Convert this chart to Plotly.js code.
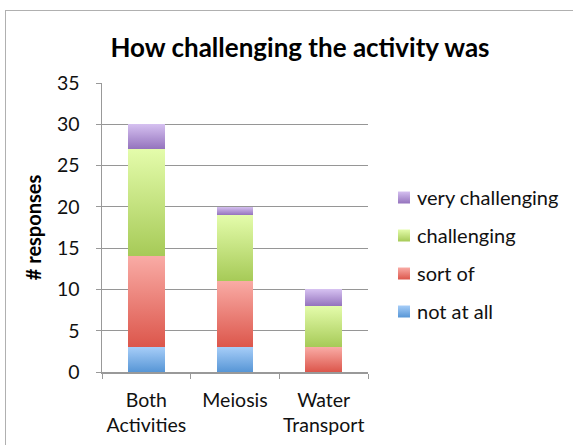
<!DOCTYPE html>
<html><head><meta charset="utf-8">
<script src="https://cdn.plot.ly/plotly-3.0.1.min.js"></script>
<style>
html,body{margin:0;padding:0;background:#fff;}
#wrap{position:relative;width:573px;height:445px;overflow:hidden;}
#frame{position:absolute;left:5px;top:10px;width:600px;height:500px;border:1.5px solid #b0b0b0;box-sizing:border-box;pointer-events:none;z-index:2;}
#chart{position:absolute;left:0;top:0;width:573px;height:445px;}
</style></head>
<body><div id="wrap"><div id="chart"></div><div id="frame"></div></div>
<script>
const categories = ["Both<br>Activities", "Meiosis", "Water<br>Transport"];
const notAtAll = [3, 3, 0];
const sortOf = [11, 8, 3];
const challenging = [13, 8, 5];
const veryChallenging = [3, 1, 2];
const seriesNames = ["not at all", "sort of", "challenging", "very challenging"];
const yTicks = [0, 5, 10, 15, 20, 25, 30, 35];

const baseColors = ["#7aaee6", "#ea7d76", "#c8e48a", "#b29bd5"];
const gradTop = ["#a6cdf8", "#f9aba5", "#e4fcab", "#d5c0f0"];
const gradBot = ["#5796d6", "#dc564b", "#a6ca57", "#9473bd"];

const values = [notAtAll, sortOf, challenging, veryChallenging];
const traces = values.map((v, i) => ({
  type: "bar",
  name: seriesNames[i],
  x: categories,
  y: v,
  legendgroup: "g" + i,
  legendrank: 1000 - i,
  marker: {color: baseColors[i], line: {width: 0}},
  hoverinfo: "y+name"
}));

const font = "Lato, 'Open Sans', sans-serif";
const layout = {
  width: 573, height: 445,
  margin: {l: 102, r: 205, t: 83, b: 73},
  paper_bgcolor: "#fff", plot_bgcolor: "#fff",
  barmode: "stack",
  bargap: 0.59,
  font: {family: font, size: 19, color: "#111"},
  title: {text: "<b>How challenging the activity was</b>", font: {family: font, size: 26, color: "#000"},
          xref: "container", x: 300/573, xanchor: "center", yref: "container", y: 1 - 48/445, yanchor: "middle"},
  xaxis: {type: "category", tickson: "boundaries", ticks: "outside", ticklen: 5, tickcolor: "#999",
          showline: true, linecolor: "#999", linewidth: 1.5, showgrid: false, tickangle: 0, automargin: false,
          ticklabelstandoff: 10,
          tickfont: {size: 19.5, family: font, color: "#111"}},
  yaxis: {range: [0, 35], tickvals: yTicks, ticktext: yTicks.map(String), ticks: "outside", ticklen: 5, tickcolor: "#999",
          showline: true, linecolor: "#999", linewidth: 1.5, showgrid: true, gridcolor: "#969696", gridwidth: 1.2,
          zeroline: false, ticklabelstandoff: 12, automargin: false,
          tickfont: {size: 19.5, family: font, color: "#111"},
          title: {text: "<b># responses</b>", font: {size: 20, family: font, color: "#000"}, standoff: 10}},
  legend: {x: 384/573, xref: "container", y: 1 - 178/445, yref: "container", yanchor: "top", xanchor: "left",
           traceorder: "grouped", tracegroupgap: 9, font: {size: 20, family: font, color: "#111"},
           itemwidth: 30, bgcolor: "rgba(0,0,0,0)"},
  showlegend: true
};

Plotly.newPlot("chart", traces, layout, {displayModeBar: false, staticPlot: true}).then(gd => {
  const svg = gd.querySelector("svg.main-svg");
  const ns = "http://www.w3.org/2000/svg";
  let defs = svg.querySelector("defs");
  if (!defs) { defs = document.createElementNS(ns, "defs"); svg.insertBefore(defs, svg.firstChild); }
  for (let i = 0; i < 4; i++) {
    const lg = document.createElementNS(ns, "linearGradient");
    lg.setAttribute("id", "grad" + i);
    lg.setAttribute("x1", "0"); lg.setAttribute("y1", "0"); lg.setAttribute("x2", "0"); lg.setAttribute("y2", "1");
    const s1 = document.createElementNS(ns, "stop"); s1.setAttribute("offset", "0"); s1.setAttribute("stop-color", gradTop[i]);
    const s2 = document.createElementNS(ns, "stop"); s2.setAttribute("offset", "1"); s2.setAttribute("stop-color", gradBot[i]);
    lg.appendChild(s1); lg.appendChild(s2); defs.appendChild(lg);
  }
  const barTraces = gd.querySelectorAll(".barlayer .trace");
  barTraces.forEach((t, i) => {
    t.querySelectorAll("path").forEach(p => { p.style.fill = "url(#grad" + i + ")"; });
  });
  const legTraces = gd.querySelectorAll(".legend .traces");
  legTraces.forEach(t => {
    const txt = t.querySelector(".legendtext");
    const idx = seriesNames.indexOf(txt.textContent);
    t.querySelectorAll(".legendpoints path").forEach(p => { p.style.fill = "url(#grad" + idx + ")"; });
    txt.setAttribute("x", "33");
  });
});
</script></body></html>
